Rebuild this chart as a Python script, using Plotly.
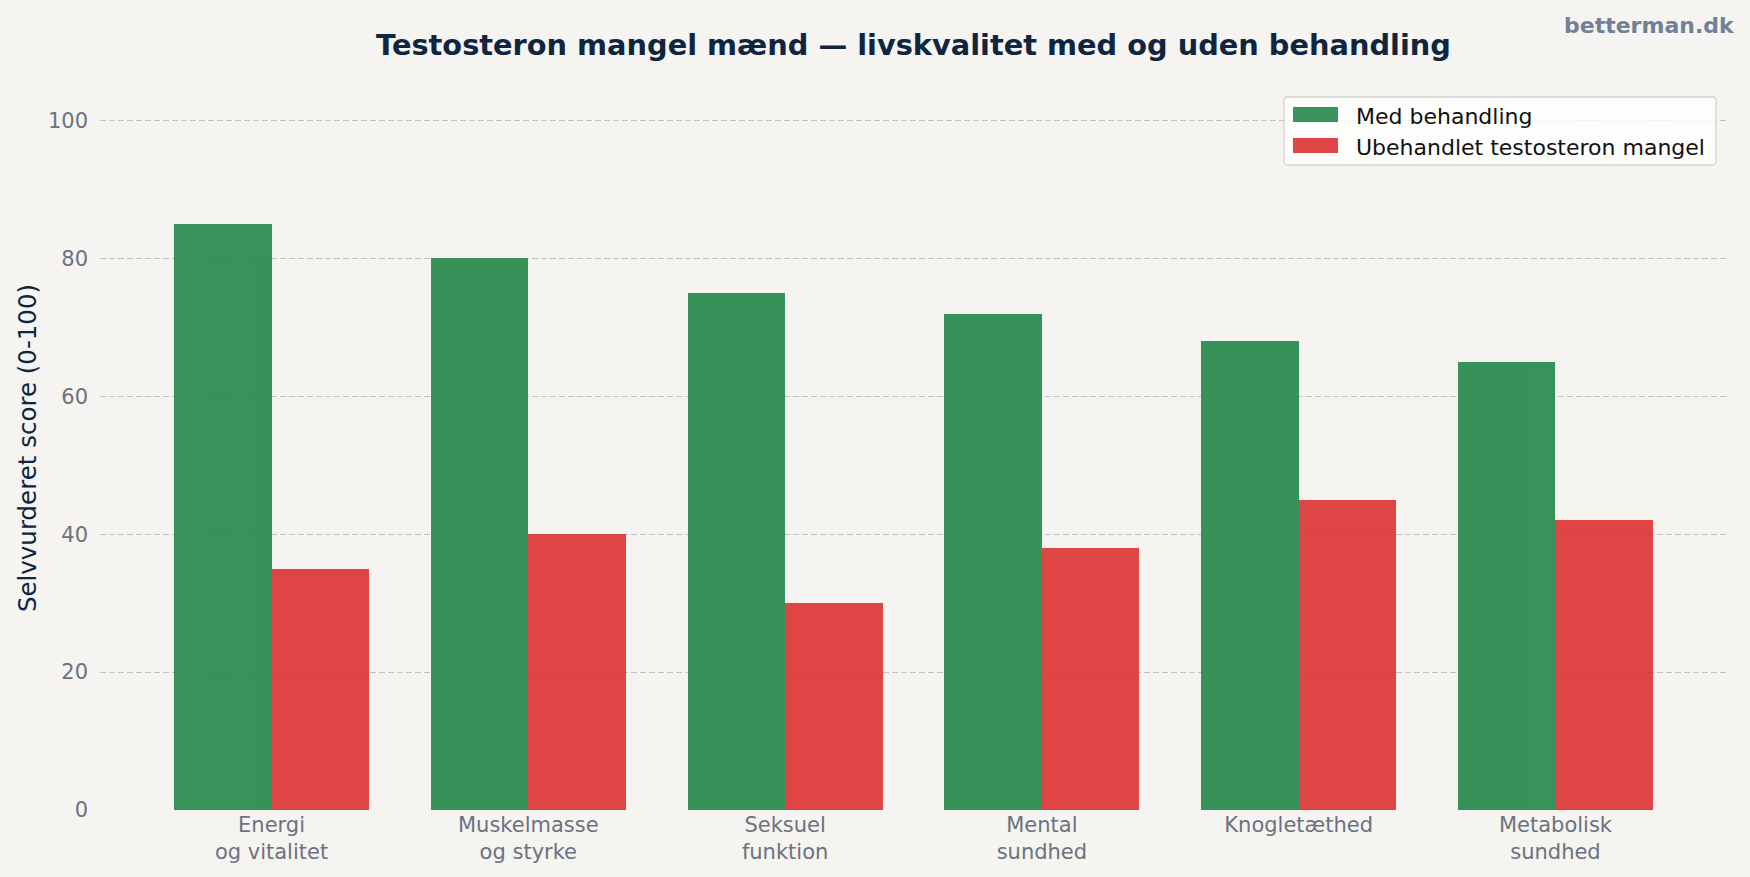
import plotly.graph_objects as go

categories = ["Energi<br>og vitalitet", "Muskelmasse<br>og styrke", "Seksuel<br>funktion",
              "Mental<br>sundhed", "Knogletæthed", "Metabolisk<br>sundhed"]
med_behandling = [85, 80, 75, 72, 68, 65]
ubehandlet = [35, 40, 30, 38, 45, 42]
y_ticks = [0, 20, 40, 60, 80, 100]
series_names = ["Med behandling", "Ubehandlet testosteron mangel"]
series_colors = ["#238749", "#de3233"]

x = list(range(len(categories)))
w = 0.38
bg = "#f5f4f0"
font = "DejaVu Sans"

W, H = 1750, 877
ML, MR, MT, MB = 100, 23, 86, 67
PW, PH = W - ML - MR, H - MT - MB


def px(xp):
    return (xp - ML) / PW


def py(yp):
    return (H - MB - yp) / PH


fig = go.Figure()
for vals, off, name, col in [(med_behandling, -w / 2, series_names[0], series_colors[0]),
                             (ubehandlet, w / 2, series_names[1], series_colors[1])]:
    fig.add_trace(go.Bar(
        x=[i + off for i in x], y=vals, width=w, name=name, showlegend=False,
        marker=dict(color=col, line=dict(width=0)), opacity=0.9,
    ))

# manual legend (matplotlib-style box with wide patches)
x0, x1, y0, y1, r = 1284, 1716, 97, 165, 4
rx, ry = r / PW, r / PH
X0, X1, Y0, Y1 = px(x0), px(x1), py(y1), py(y0)
path = (f"M{X0+rx},{Y0} L{X1-rx},{Y0} Q{X1},{Y0} {X1},{Y0+ry} L{X1},{Y1-ry} "
        f"Q{X1},{Y1} {X1-rx},{Y1} L{X0+rx},{Y1} Q{X0},{Y1} {X0},{Y1-ry} "
        f"L{X0},{Y0+ry} Q{X0},{Y0} {X0+rx},{Y0} Z")
shapes = [dict(type="path", path=path, xref="paper", yref="paper", layer="above",
               fillcolor="rgba(255,255,255,0.8)", line=dict(color="#d3d3d3", width=1.3))]
annotations = []
for k, (name, col) in enumerate(zip(series_names, series_colors)):
    cy = 114.5 + 31 * k
    shapes.append(dict(type="rect", xref="paper", yref="paper", layer="above",
                       x0=px(1293), x1=px(1338), y0=py(cy + 7.5), y1=py(cy - 7.5),
                       fillcolor=col, opacity=0.9, line=dict(width=0)))
    annotations.append(dict(text=name, xref="paper", yref="paper", x=px(1354), y=py(cy + 2),
                            xanchor="left", yanchor="middle", showarrow=False,
                            font=dict(family=font, size=22, color="#111111")))

annotations.append(dict(text="<b>betterman.dk</b>", xref="paper", yref="paper",
                        x=px(1737), xanchor="right", y=py(25), yanchor="middle",
                        showarrow=False, font=dict(family=font, size=22, color="#718096")))

fig.update_layout(
    width=W, height=H,
    paper_bgcolor=bg, plot_bgcolor=bg,
    margin=dict(l=ML, r=MR, t=MT, b=MB),
    barmode="overlay",
    title=dict(text="<b>Testosteron mangel mænd — livskvalitet med og uden behandling</b>",
               x=0.5, xref="paper", xanchor="center", y=1 - 45 / H, yanchor="middle",
               font=dict(family=font, size=28.8, color="#0f2540")),
    xaxis=dict(range=[-0.668, 5.668], tickmode="array", tickvals=x, ticktext=categories,
               showgrid=False, zeroline=False, showline=False, ticks="",
               tickfont=dict(family=font, size=21, color="#6b7280")),
    yaxis=dict(range=[0, 105], tickmode="array", tickvals=y_ticks,
               showgrid=True, gridcolor="#c2c2c4", griddash="6px,3px", gridwidth=1.3,
               zeroline=False, showline=False, ticks="", ticklabelstandoff=11,
               tickfont=dict(family=font, size=21, color="#6b7280"),
               title=dict(text="Selvvurderet score (0-100)", standoff=4,
                          font=dict(family=font, size=24.5, color="#0f2540"))),
    bargap=0,
    showlegend=False,
    shapes=shapes,
    annotations=annotations,
)

fig.write_html("out.html")
